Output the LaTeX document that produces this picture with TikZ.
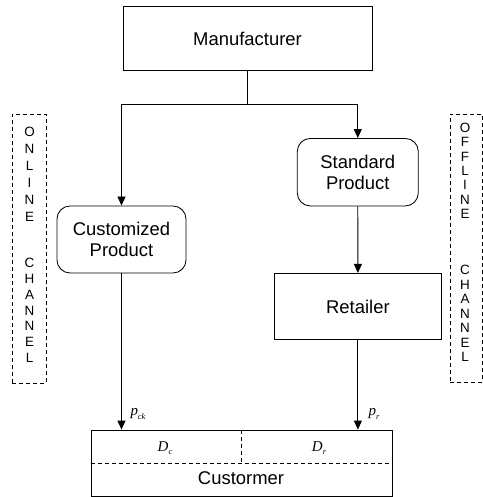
\documentclass[tikz,border=0pt]{standalone}
\usepackage{fontspec}
\setmainfont{Liberation Sans}
\newfontfamily\tms{Liberation Serif}
\usetikzlibrary{arrows.meta}
\newcommand{\mylab}[2]{{\tms\itshape\fontsize{15}{15}\selectfont #1\raisebox{-0.45ex}{\fontsize{8.5}{8.5}\selectfont #2}}}
\tikzset{
  base/.style={draw, line width=0.85bp, inner sep=0pt, align=center, font=\fontsize{18.5}{21.6}\selectfont},
  sqbox/.style={base, rectangle},
  rbox/.style={base, rectangle, rounded corners=13bp},
  arr/.style={line width=0.85bp, -{Triangle[length=9bp,width=8bp]}},
  ln/.style={line width=0.85bp},
  dsh/.style={line width=0.85bp, dash pattern=on 4bp off 3bp},
  letter/.style={inner sep=0pt, font=\fontsize{13.5}{13.5}\selectfont},
  lab/.style={inner sep=0pt},
}
\begin{document}
\begin{tikzpicture}[x=1bp,y=-1bp]
\useasboundingbox (0,0) rectangle (483,497);
\node[sqbox, minimum width=249bp, minimum height=64bp] (man) at (247.5,38.5) {Manufacturer};
\node[rbox, minimum width=129bp, minimum height=67bp] (cp) at (121.5,239.5) {Customized\\Product};
\node[rbox, minimum width=121bp, minimum height=67.5bp] (sp) at (357.8,172.2) {Standard\\Product};
\node[sqbox, minimum width=167.5bp, minimum height=66.5bp] (ret) at (357.9,306.6) {Retailer};
\node[draw, line width=0.85bp, rectangle, minimum width=301bp, minimum height=66bp, inner sep=0pt] (cust) at (241.5,463) {};
\coordinate (mid) at (241.5,463);
\draw[dsh] (cust.west |- mid) -- (cust.east |- mid);
\draw[dsh] (cust.north) -- (mid);
\node[lab] (dc) at (165,448) {\mylab{D}{c}};
\node[lab] (dr) at (319,448) {\mylab{D}{r}};
\node[inner sep=0pt, font=\fontsize{18.5}{18.5}\selectfont] (cm) at (241,478) {Custormer};

\draw[ln] (man.south) -- ++(0,33.5) coordinate (j);
\draw[arr] (j) -| (cp.north);
\draw[arr] (j) -| (sp.north);
\draw[arr] (sp.south) -- (ret.north);
\draw[arr] (cp.south) -- (cp.south |- cust.north);
\draw[arr] (ret.south) -- (ret.south |- cust.north);
\node[lab] (pck) at (138,414) {\mylab{p}{ck}};
\node[lab] (pr) at (374,414) {\mylab{p}{r}};

% channel boxes
\node[draw, dsh, rectangle, minimum width=34bp, minimum height=269bp, inner sep=0pt] (on) at (29,248.5) {};
\node[draw, dsh, rectangle, minimum width=32bp, minimum height=268bp, inner sep=0pt] (off) at (466.3,248) {};
\foreach \t/\y in {O/131.7,N/148.7,L/165.7,I/182.7,N/199.7,E/216.7,C/263,H/278.8,A/294.7,N/310.5,N/326.3,E/342.2,L/358}
  \node[letter] at (29.5,\y) {\t};
\foreach \t/\y in {O/128,F/142.3,F/156.6,L/170.9,I/185.2,N/199.5,E/213.8,C/270,H/284.5,A/299,N/313.5,N/328,E/342.5,L/357}
  \node[letter] at (465,\y) {\t};
\end{tikzpicture}
\end{document}
